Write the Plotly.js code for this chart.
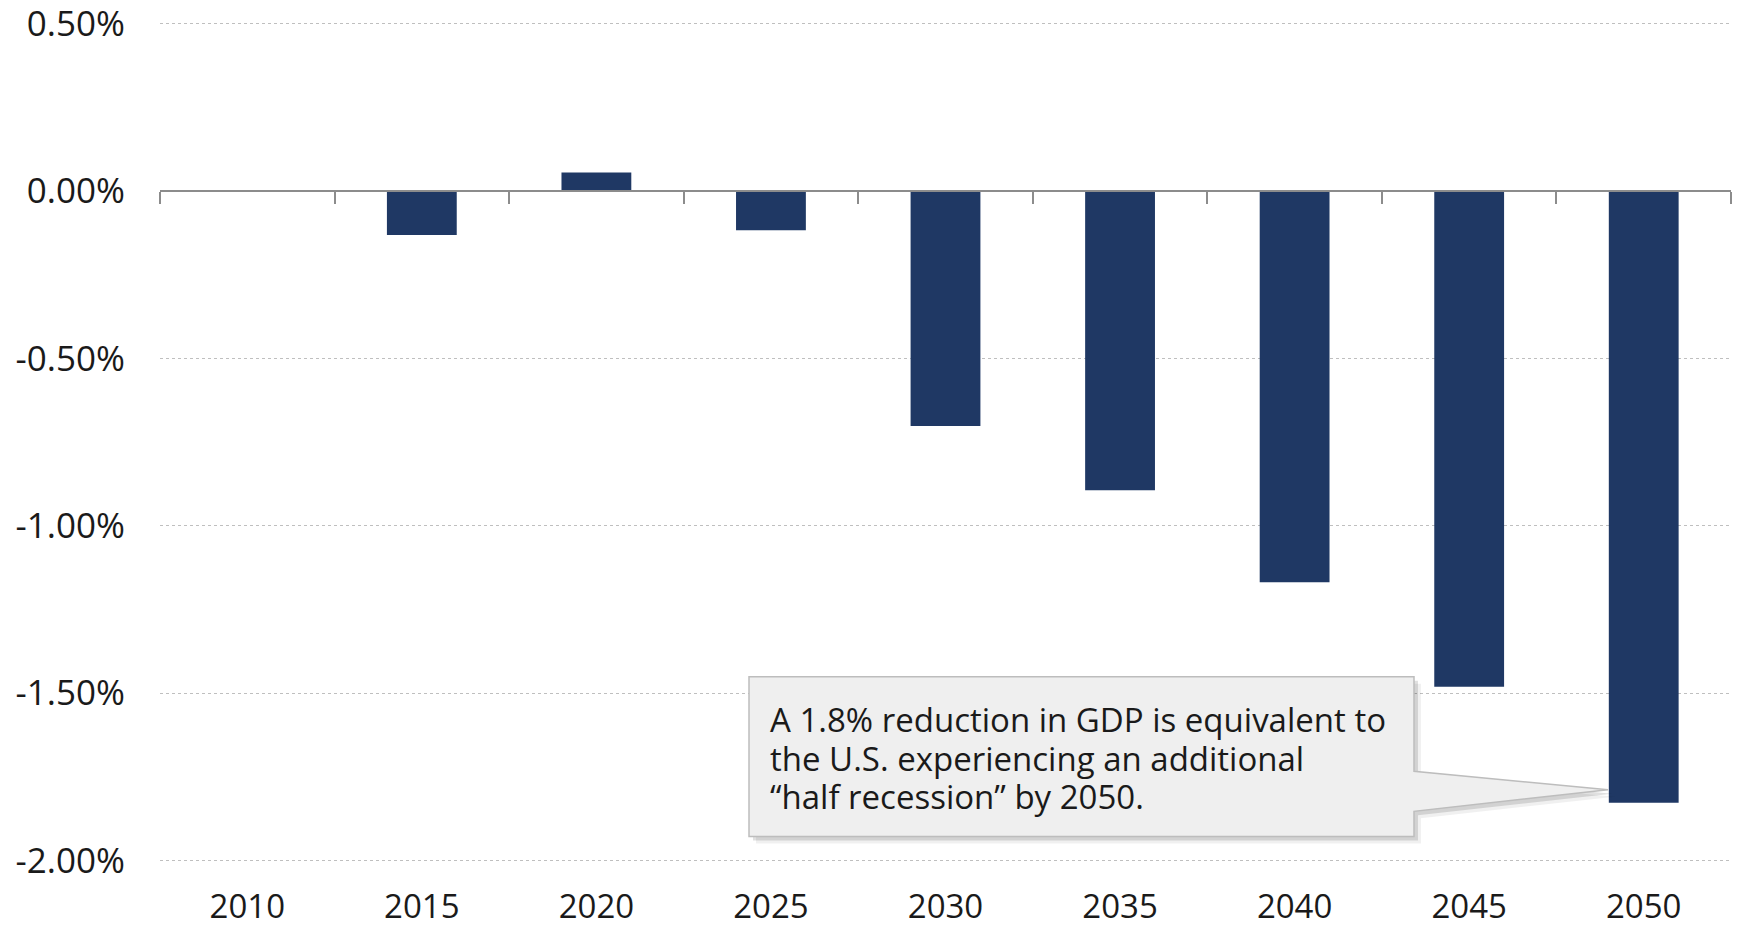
<!DOCTYPE html>
<html>
<head>
<meta charset="utf-8">
<script src="https://cdn.plot.ly/plotly-3.0.1.min.js"></script>
<style>
html,body{margin:0;padding:0;background:#fff;}
#chart{width:1742px;height:927px;}
</style>
</head>
<body>
<div id="chart"></div>
<script>
// ---- data ----
const years = ['2010','2015','2020','2025','2030','2035','2040','2045','2050'];
const gdpChange = [0, -0.132, 0.055, -0.118, -0.702, -0.894, -1.169, -1.481, -1.827];
const yTickVals = [0.5, 0, -0.5, -1, -1.5, -2];
const yTickText = ['0.50%', '0.00%', '-0.50%', '-1.00%', '-1.50%', '-2.00%'];
const calloutLines = [
  'A 1.8% reduction in GDP is equivalent to',
  'the U.S. experiencing an additional',
  '\u201Chalf recession\u201D by 2050.'
];

// ---- layout geometry (pixels) ----
const W = 1742, H = 927;
const Y_MIN = -2.01, Y_MAX = 0.51;
const L = 160, R = 1731, T = 20, B = 864.4;
const px = x => (x - L) / (R - L);
const py = y => (B - y) / (B - T);
const zeroPos = (0 - Y_MIN) / (Y_MAX - Y_MIN);
const FONT = '"Open Sans", sans-serif';

function calloutPath(dx, dy) {
  const pts = [
    [749, 677], [1414, 677], [1414, 771.7], [1608, 790],
    [1414, 811.7], [1414, 837], [749, 837]
  ];
  return 'M ' + pts.map(p => px(p[0] + dx).toFixed(5) + ',' + py(p[1] + dy).toFixed(5)).join(' L ') + ' Z';
}

const shapes = [
  {type:'path', xref:'paper', yref:'paper', path: calloutPath(7, 7), fillcolor:'rgba(0,0,0,0.06)', line:{width:0}, layer:'above'},
  {type:'path', xref:'paper', yref:'paper', path: calloutPath(4, 4), fillcolor:'rgba(0,0,0,0.12)', line:{width:0}, layer:'above'},
  {type:'path', xref:'paper', yref:'paper', path: calloutPath(0, 0), fillcolor:'#efefef', line:{color:'#bdbdbd', width:1.5}, layer:'above'}
];

const lineCenters = [720, 759, 797];
const annotations = calloutLines.map((t, i) => ({
  xref:'paper', yref:'paper', x: px(768), y: py(lineCenters[i]),
  xanchor:'left', yanchor:'middle', showarrow:false, text:t,
  font:{family:FONT, size:33, color:'#1a1a1a'}
}));

const traces = [
  {
    type:'bar', x: years, y: gdpChange, xaxis:'x', yaxis:'y',
    marker:{color:'#1f3864', line:{width:0}},
    width:0.4, hoverinfo:'skip', showlegend:false
  },
  {
    type:'scatter', mode:'markers', x: years, y: gdpChange, xaxis:'x2', yaxis:'y',
    marker:{opacity:0}, hoverinfo:'skip', showlegend:false
  }
];

const layout = {
  width: W, height: H,
  margin:{l:L, r:W - R, t:T, b:H - B, pad:0},
  paper_bgcolor:'#ffffff', plot_bgcolor:'#ffffff',
  font:{family:FONT, color:'#1a1a1a'},
  showlegend:false,
  xaxis:{
    type:'category', categoryorder:'array', categoryarray: years,
    range:[-0.5, years.length - 0.5],
    showline:false, showgrid:false, zeroline:false, ticks:'',
    tickfont:{family:FONT, size:33, color:'#1a1a1a'},
    ticklabelstandoff: 20, ticklabeloverflow:'allow', fixedrange:true
  },
  xaxis2:{
    type:'category', categoryorder:'array', categoryarray: years,
    range:[-0.5, years.length - 0.5],
    overlaying:'x', anchor:'free', position: zeroPos, side:'bottom',
    showline:true, linecolor:'#8c8c8c', linewidth:2,
    ticks:'outside', tickson:'boundaries', ticklen:12, tickwidth:2, tickcolor:'#8c8c8c',
    showticklabels:false, showgrid:false, zeroline:false, fixedrange:true
  },
  yaxis:{
    range:[Y_MIN, Y_MAX], tickvals: yTickVals, ticktext: yTickText,
    showgrid:true, gridcolor:'#bfbfbf', griddash:'dot', gridwidth:1.3,
    zeroline:false, showline:false, ticks:'',
    tickfont:{family:FONT, size:35, color:'#1a1a1a'},
    ticklabelstandoff: 34, ticklabeloverflow:'allow', fixedrange:true
  },
  shapes: shapes,
  annotations: annotations
};

Plotly.newPlot('chart', traces, layout, {displayModeBar:false, staticPlot:true});
</script>
</body>
</html>
